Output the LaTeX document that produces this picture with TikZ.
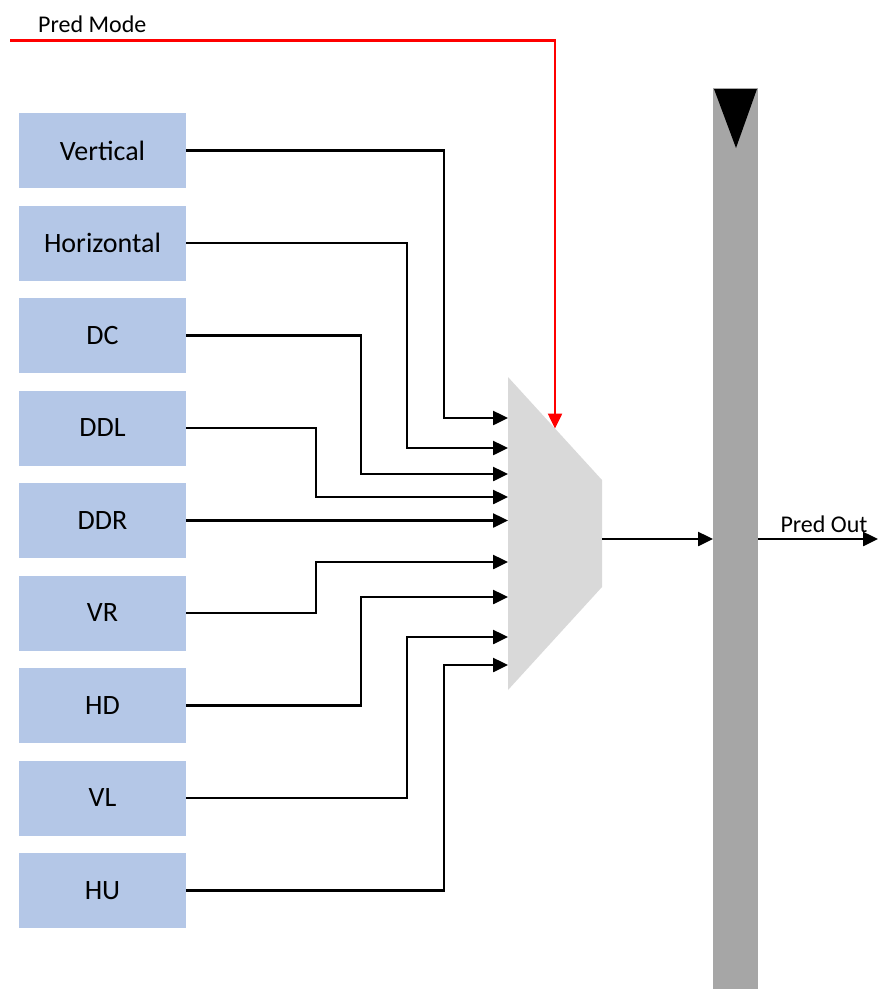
\documentclass[tikz,border=0pt]{standalone}
\usepackage{fontspec}
\setmainfont{Carlito}
\usetikzlibrary{positioning,arrows.meta}
\definecolor{modeblue}{HTML}{B4C7E7}
\definecolor{muxgrey}{HTML}{D9D9D9}
\definecolor{reggrey}{HTML}{A6A6A6}
\definecolor{selred}{HTML}{FF0000}
\tikzset{
  predbox/.style = {fill=modeblue, minimum width=167pt, minimum height=75pt,
                    inner sep=0pt, outer sep=0pt, font=\fontsize{28}{34}\selectfont, text=black},
  arr/.style     = {-{Triangle[length=15pt,width=14pt]}, line width=2.5pt},
  selarr/.style  = {arr, draw=selred},
  lab/.style     = {font=\fontsize{24}{28}\selectfont, inner sep=2pt, text=black},
}

\begin{document}
\begin{tikzpicture}[x=1pt,y=-1pt]
  \useasboundingbox (0,0) rectangle (878,989);

  % ---------------- Prediction modes ----------------
  \node[predbox] (vert) at (102.5,150.5) {Vertical};
  \node[predbox, below=17.5pt of vert]  (horiz) {Horizontal};
  \node[predbox, below=17.5pt of horiz] (dc)    {DC};
  \node[predbox, below=17.5pt of dc]    (ddl)   {DDL};
  \node[predbox, below=17.5pt of ddl]   (ddr)   {DDR};
  \node[predbox, below=17.5pt of ddr]   (vr)    {VR};
  \node[predbox, below=17.5pt of vr]    (hd)    {HD};
  \node[predbox, below=17.5pt of hd]    (vl)    {VL};
  \node[predbox, below=17.5pt of vl]    (hu)    {HU};

  % ---------------- Mux ----------------
  \fill[muxgrey] (508,377) -- (602,480) -- (602,587) -- (508,690) -- cycle;
  \coordinate (in1) at (508,418);
  \coordinate (in2) at (508,448);
  \coordinate (in3) at (508,474);
  \coordinate (in4) at (508,497);
  \coordinate (in5) at (508,520.5);
  \coordinate (in6) at (508,562);
  \coordinate (in7) at (508,597);
  \coordinate (in8) at (508,637);
  \coordinate (in9) at (508,665);
  \coordinate (sel)    at (555,428.5);
  \coordinate (muxout) at (602,539);

  % ---------------- Register ----------------
  \node[fill=reggrey, minimum width=45pt, minimum height=901pt, inner sep=0pt, outer sep=0pt]
    (reg) at (735.5,538.5) {};
  \fill[black] (714,89) -- (757,89) -- (736,148) -- cycle;

  % ---------------- Inputs ----------------
  \draw[arr] (vert.east)  -- ++(258,0) |- (in1);
  \draw[arr] (horiz.east) -- ++(221,0) |- (in2);
  \draw[arr] (dc.east)    -- ++(175,0) |- (in3);
  \draw[arr] (ddl.east)   -- ++(130,0) |- (in4);
  \draw[arr] (ddr.east)   -- (in5);
  \draw[arr] (vr.east)    -- ++(130,0) |- (in6);
  \draw[arr] (hd.east)    -- ++(175,0) |- (in7);
  \draw[arr] (vl.east)    -- ++(221,0) |- (in8);
  \draw[arr] (hu.east)    -- ++(258,0) |- (in9);

  % ---------------- Select and output ----------------
  \coordinate (modein) at (10,40.5);
  \node[lab, anchor=south west] (modelab) at (36,35) {Pred Mode};
  \draw[selarr] (modein) -| (sel);

  \draw[arr] (muxout) -- (reg.west |- muxout);
  \coordinate (predout) at (878,539);
  \draw[arr] (reg.east |- predout) -- node[lab, above=3pt, xshift=6pt] {Pred Out} (predout);
\end{tikzpicture}
\end{document}
